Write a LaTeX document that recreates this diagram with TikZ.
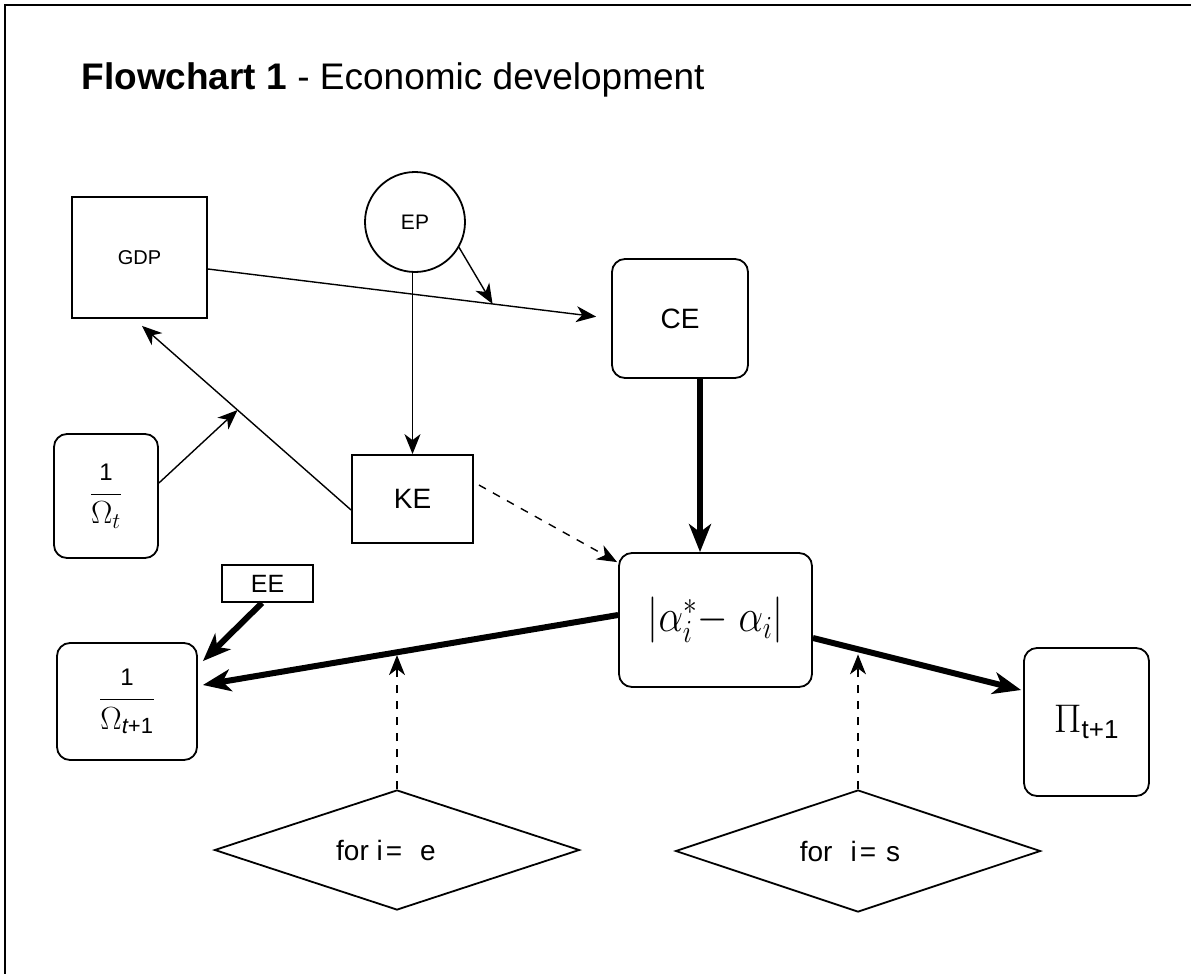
\RequirePackage{fix-cm}
\documentclass[tikz,border=0pt]{standalone}
\usepackage{graphicx}
\usepackage{fontspec}
\setmainfont{Liberation Sans}
\usetikzlibrary{arrows.meta,shapes.geometric,calc}
\begin{document}
\begin{tikzpicture}[x=1pt,y=-1pt,
  box/.style={draw,line width=1.8pt,inner sep=0pt},
  rbox/.style={box,rounded corners=13pt},
  thinarrow/.style={line width=1.4pt,-{Stealth[length=20pt,width=16pt,inset=6pt]}},
  thickarrow/.style={line width=6pt,-{Stealth[length=28pt,width=22pt,inset=8pt]}},
  dsharrow/.style={thinarrow,dash pattern=on 8pt off 8pt},
  dia/.style={draw,diamond,line width=1.8pt,aspect=3,inner sep=0pt},
  fs/.style={font=\fontsize{#1}{#1}\selectfont}
]
\useasboundingbox (0,0) rectangle (1191,974);
\draw[line width=2.2pt] (5,974) -- (5,5) -- (1191,5);

\node[anchor=base west,fs=37] (T) at (78,89) {\textbf{Flowchart 1} - Economic development};

\node[box,minimum width=135pt,minimum height=121pt,fs=20] (GDP) at (139.5,257.5) {GDP};
\node[draw,circle,line width=1.8pt,minimum size=100pt,inner sep=0pt,fs=21] (EP) at (415,222) {EP};
\node[rbox,minimum width=136pt,minimum height=119pt,fs=28] (CE) at (680,318.5) {CE};
\node[box,minimum width=121pt,minimum height=88pt,fs=28] (KE) at (412.5,499) {KE};
\node[rbox,minimum width=104pt,minimum height=124pt,fs=32] (O1) at (106,496) {$\displaystyle\frac{\mbox{\fontsize{24}{24}\selectfont 1}}{\Omega_{t}}$};
\node[box,minimum width=91pt,minimum height=37pt,fs=25] (EE) at (267.5,583.5) {EE};
\node[rbox,minimum width=140pt,minimum height=117pt,fs=32] (O2) at (127,701.5) {$\displaystyle\frac{\mbox{\fontsize{24}{24}\selectfont 1}}{\Omega_{\mbox{\fontsize{22}{22}\selectfont\itshape t\upshape +1}}}$};
\node[rbox,minimum width=193pt,minimum height=134pt,fs=46] (M) at (715.5,620) {\scalebox{0.85}[1]{$\left|\alpha_i^{*}{-}\;\alpha_i\right|$}};
\node[rbox,minimum width=125pt,minimum height=148pt,fs=40] (P) at (1086.5,722) {\raisebox{-14pt}{$\Pi_{\mbox{\fontsize{26}{26}\selectfont t+1}}$}};
\node[dia,minimum width=365pt,minimum height=120pt,fs=28] (D1) at (397,850) {for i\hspace{3pt}=\hspace{18pt}e\hspace*{22pt}};
\node[dia,minimum width=365pt,minimum height=122pt,fs=28] (D2) at (858,851) {for\hspace{18pt}i\hspace{3pt}=\hspace{10pt}s\hspace*{16pt}};

% GDP -> CE
\coordinate (g0) at ([yshift=-11.5pt]GDP.east);
\coordinate (m1) at ($(g0)!0.706!(CE.west)$);
\draw[thinarrow,shorten >=15pt] (g0) -- (CE.west);
\draw[thinarrow] (EP.-30) -- (m1);
% EP -> KE
\draw[thinarrow] (EP.south -| KE.north) -- (KE.north);
% KE -> GDP
\coordinate (k0) at ([yshift=-11pt]KE.west);
\coordinate (k1) at ([xshift=2.5pt,yshift=-7pt]GDP.south);
\coordinate (m2) at ($(k0)!0.543!(k1)$);
\draw[thinarrow] (k0) -- (k1);
\draw[thinarrow] ([yshift=13pt]O1.east) -- (m2);
% KE -> M dashed
\draw[dsharrow] ([xshift=5pt,yshift=14pt]KE.east) -- ([xshift=-1pt,yshift=-10pt]M.north west);
% CE -> M
\draw[thickarrow] ([xshift=20pt]CE.south) -- ([xshift=20pt]CE.south |- M.north);
% EE -> O2
\draw[thickarrow] ([xshift=-5.5pt]EE.south) -- ([xshift=5pt,yshift=-19pt]O2.north east);
% M -> O2
\coordinate (a0) at ([yshift=5pt]M.west);
\coordinate (a1) at ([xshift=5pt,yshift=16.5pt]O2.east);
\coordinate (L1) at ($(a0)!0.5156!(a1)$);
\draw[thickarrow] (a0) -- (a1);
% M -> P
\coordinate (b0) at ([yshift=-18pt]M.east);
\coordinate (b1) at ([xshift=-2pt,yshift=32pt]P.west);
\coordinate (L2) at ($(b0)!0.238!(b1)$);
\draw[thickarrow] (b0) -- (b1);
% diamonds -> lines
\draw[dsharrow,shorten >=4pt] (D1.north) -- (D1.north |- L1);
\draw[dsharrow,shorten >=4pt] (D2.north) -- (D2.north |- L2);
\end{tikzpicture}
\end{document}
